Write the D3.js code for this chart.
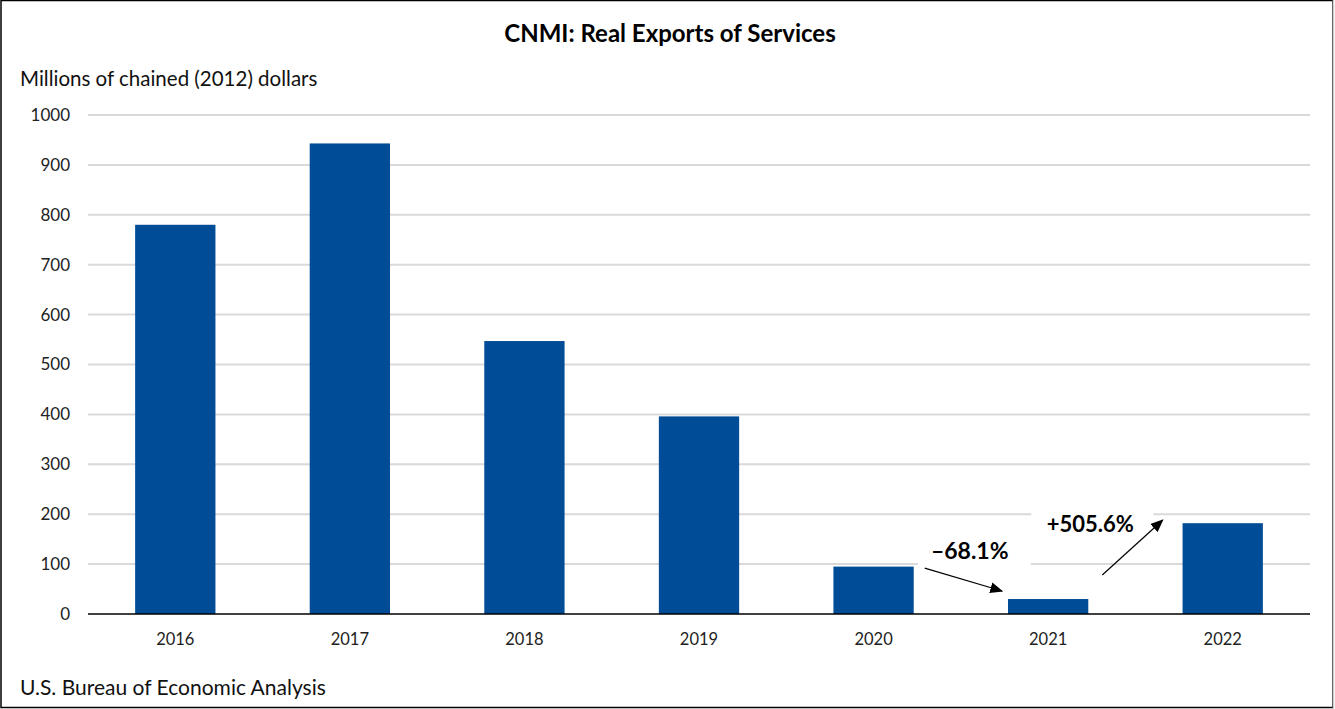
<!DOCTYPE html>
<html>
<head>
<meta charset="utf-8">
<script src="https://cdn.jsdelivr.net/npm/d3@7"></script>
<style>
  html, body { margin: 0; padding: 0; background: #fff; }
  svg { display: block; }
</style>
</head>
<body>
<svg id="chart" width="1335" height="709"></svg>
<script>
const categories = ["2016", "2017", "2018", "2019", "2020", "2021", "2022"];
const values = [780, 943, 547, 396, 95, 30, 182];
const yTicks = [0, 100, 200, 300, 400, 500, 600, 700, 800, 900, 1000];
const titleText = "CNMI: Real Exports of Services";
const yLabelText = "Millions of chained (2012) dollars";
const sourceText = "U.S. Bureau of Economic Analysis";
const changeLabels = ["\u201368.1%", "+505.6%"];

const FONT = "Lato, 'Open Sans', sans-serif";
const svg = d3.select("#chart");

// frame
svg.append("rect").attr("x", 1).attr("y", 0.5).attr("width", 1332).attr("height", 707)
  .attr("fill", "#fff").attr("stroke", "#000").attr("stroke-width", 1.5);
svg.append("line").attr("x1", 1333.5).attr("x2", 1333.5).attr("y1", 0).attr("y2", 708)
  .attr("stroke", "#d0d0d0").attr("stroke-width", 1.5);

const margin = { left: 88, right: 1310, top: 115, bottom: 614 };
const x = d3.scaleBand().domain(categories).range([margin.left, margin.right]).paddingInner(0.54).paddingOuter(0.27);
const y = d3.scaleLinear().domain([0, 1000]).range([margin.bottom, margin.top]);

// gridlines
svg.append("g").selectAll("line").data(yTicks.filter(d => d > 0)).join("line")
  .attr("x1", margin.left).attr("x2", margin.right)
  .attr("y1", d => y(d)).attr("y2", d => y(d))
  .attr("stroke", "#d9d9d9").attr("stroke-width", 2);

// y tick labels
svg.append("g").selectAll("text").data(yTicks).join("text")
  .attr("x", 70).attr("y", d => y(d)).attr("dy", "0.35em")
  .attr("text-anchor", "end").attr("font-family", FONT).attr("font-size", 17)
  .attr("fill", "#222").text(d => d);

// bars
svg.append("g").selectAll("rect").data(values).join("rect")
  .attr("x", (d, i) => x(categories[i]))
  .attr("width", x.bandwidth())
  .attr("y", d => y(d))
  .attr("height", d => y(0) - y(d))
  .attr("fill", "#004C97");

// baseline
svg.append("line").attr("x1", margin.left).attr("x2", margin.right)
  .attr("y1", y(0)).attr("y2", y(0)).attr("stroke", "#000").attr("stroke-width", 1.5);

// x labels
svg.append("g").selectAll("text").data(categories).join("text")
  .attr("x", d => x(d) + x.bandwidth() / 2).attr("y", 645)
  .attr("text-anchor", "middle").attr("font-family", FONT).attr("font-size", 16.5)
  .attr("fill", "#222").text(d => d);

// title
svg.append("text").attr("x", 670).attr("y", 42).attr("text-anchor", "middle")
  .attr("font-family", FONT).attr("font-size", 24).attr("font-weight", "bold")
  .attr("fill", "#000").text(titleText);

// y axis label
svg.append("text").attr("x", 20).attr("y", 86)
  .attr("font-family", FONT).attr("font-size", 20.5).attr("fill", "#111").text(yLabelText);

// source
svg.append("text").attr("x", 20).attr("y", 695)
  .attr("font-family", FONT).attr("font-size", 21).attr("fill", "#111").text(sourceText);

// arrow marker
svg.append("defs").append("marker").attr("id", "arrow")
  .attr("viewBox", "0 0 10 10").attr("refX", 9).attr("refY", 5)
  .attr("markerWidth", 13).attr("markerHeight", 11).attr("orient", "auto")
  .attr("markerUnits", "userSpaceOnUse")
  .attr("preserveAspectRatio", "none")
  .append("path").attr("d", "M0,0 L10,5 L0,10 Z").attr("fill", "#000");

const i20 = categories.indexOf("2020"), i21 = categories.indexOf("2021"), i22 = categories.indexOf("2022");
const bw = x.bandwidth();

// annotation 1: 2020 -> 2021
const lab1x = x("2020") + bw + 56;
svg.append("rect").attr("x", lab1x - 52).attr("y", y(values[i20]) - 29).attr("width", 113).attr("height", 32).attr("fill", "#fff");
svg.append("text").attr("x", lab1x).attr("y", y(values[i20]) - 8)
  .attr("text-anchor", "middle").attr("font-family", FONT).attr("font-size", 23)
  .attr("font-weight", "bold").attr("fill", "#000").text(changeLabels[0]);
svg.append("line")
  .attr("x1", x("2020") + bw + 11).attr("y1", y(values[i20]) + 1.5)
  .attr("x2", x("2021") - 6).attr("y2", y(values[i21]) - 8)
  .attr("stroke", "#000").attr("stroke-width", 1.2).attr("marker-end", "url(#arrow)");

// annotation 2: 2021 -> 2022
const lab2x = x("2021") + bw + 2;
svg.append("rect").attr("x", lab2x - 59).attr("y", y(values[i22]) - 20).attr("width", 122).attr("height", 38).attr("fill", "#fff");
svg.append("text").attr("x", lab2x).attr("y", y(values[i22]) + 9)
  .attr("text-anchor", "middle").attr("font-family", FONT).attr("font-size", 22)
  .attr("font-weight", "bold").attr("fill", "#000").text(changeLabels[1]);
svg.append("line")
  .attr("x1", x("2021") + bw + 14).attr("y1", y(values[i21]) - 24)
  .attr("x2", x("2022") - 20).attr("y2", y(values[i22]) - 3)
  .attr("stroke", "#000").attr("stroke-width", 1.2).attr("marker-end", "url(#arrow)");
</script>
</body>
</html>
